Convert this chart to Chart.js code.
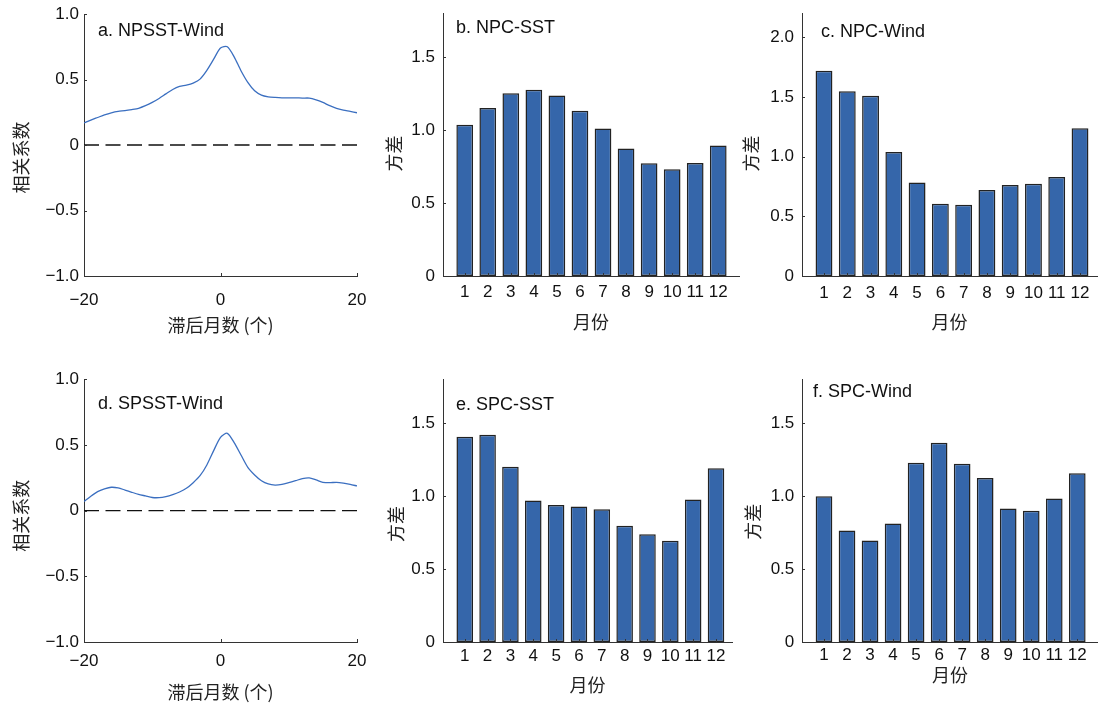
<!DOCTYPE html>
<html><head><meta charset="utf-8">
<script src="https://cdn.jsdelivr.net/npm/chart.js@4.4.1/dist/chart.umd.min.js"></script>
<style>
html,body{margin:0;padding:0;background:#fff;}
#wrap{position:relative;width:1098px;height:704px;overflow:hidden;background:#fff;}
canvas{position:absolute;}
</style></head><body><div id="wrap"></div>
<script>
// ---------- data ----------
const lags = [-20,-19,-18,-17,-16,-15,-14,-13,-12,-11,-10,-9,-8,-7,-6,-5,-4,-3,-2,-1,0,1,2,3,4,5,6,7,8,9,10,11,12,13,14,15,16,17,18,19,20];
const npsstWind = [0.168,0.19,0.21,0.23,0.246,0.257,0.262,0.27,0.28,0.30,0.325,0.355,0.39,0.424,0.447,0.457,0.473,0.503,0.57,0.655,0.74,0.75,0.673,0.567,0.478,0.414,0.381,0.368,0.363,0.36,0.36,0.36,0.358,0.358,0.345,0.325,0.30,0.28,0.267,0.257,0.246];
const spsstWind = [0.069,0.11,0.145,0.165,0.178,0.173,0.157,0.14,0.124,0.112,0.10,0.099,0.107,0.122,0.142,0.17,0.213,0.266,0.348,0.457,0.558,0.589,0.518,0.424,0.33,0.272,0.228,0.203,0.195,0.20,0.213,0.228,0.244,0.249,0.234,0.216,0.213,0.216,0.21,0.20,0.188];
const months = [1,2,3,4,5,6,7,8,9,10,11,12];
const npcSST  = [1.038,1.153,1.253,1.278,1.239,1.134,1.011,0.874,0.773,0.732,0.775,0.896];
const npcWind = [1.721,1.548,1.512,1.040,0.784,0.605,0.597,0.720,0.764,0.773,0.831,1.238];
const spcSST  = [1.406,1.420,1.201,0.970,0.938,0.928,0.910,0.796,0.739,0.693,0.976,1.191];
const spcWind = [0.999,0.764,0.695,0.812,1.228,1.365,1.221,1.123,0.915,0.899,0.983,1.157];
const corrTicks = [-1,-0.5,0,0.5,1];
const lagTicks = [-20,0,20];
const varTicks15 = [0,0.5,1,1.5];
const varTicks20 = [0,0.5,1,1.5,2];

// ---------- styling ----------
const LAT = '"Liberation Sans", Arial, sans-serif';
const CJK = '"Noto Sans CJK SC", "Liberation Sans", sans-serif';
const AXIS = '#333';
const BAR = '#3566aa';
const LINE = '#3b6fc0';

const deco = {
  id: 'deco',
  afterDraw(chart, args, o) {
    const ctx = chart.ctx, xs = chart.scales.x, ys = chart.scales.y, ca = chart.chartArea;
    ctx.save();
    ctx.strokeStyle = AXIS; ctx.lineWidth = 1;
    ctx.beginPath();
    ys.ticks.forEach(t => { const y = Math.round(ys.getPixelForValue(t.value)) + 0.5; ctx.moveTo(ca.left, y); ctx.lineTo(ca.left + 3, y); });
    xs.ticks.forEach(t => { const x = Math.round(xs.getPixelForValue(t.value)) + 0.5; ctx.moveTo(x, ca.bottom); ctx.lineTo(x, ca.bottom - 3); });
    ctx.stroke();
    ctx.fillStyle = '#111';
    ctx.font = '18px ' + LAT; ctx.textBaseline = 'middle'; ctx.textAlign = 'left';
    ctx.fillText(o.title, o.tx, o.ty);
    ctx.fillStyle = '#222';
    ctx.translate(o.yx, o.yy); ctx.rotate(-Math.PI / 2);
    ctx.textAlign = 'center'; ctx.font = '18px ' + CJK;
    ctx.fillText(o.ytitle, 0, 0);
    ctx.restore();
  }
};

const fmtCorr = v => v === 0 ? '0' : (v < 0 ? '\u2212' : '') + Math.abs(v).toFixed(1);
const fmtLag = v => (v < 0 ? '\u2212' : '') + Math.abs(v);
const fmtVar = v => v === 0 ? '0' : v.toFixed(1);

function makeChart(p) {
  const c = document.createElement('canvas');
  c.width = p.cw; c.height = p.ch;
  c.style.left = p.cx + 'px'; c.style.top = p.cy + 'px';
  c.style.width = p.cw + 'px'; c.style.height = p.ch + 'px';
  document.getElementById('wrap').appendChild(c);
  const yW = p.L - p.cx, xH = p.cy + p.ch - p.B;
  const isLine = p.kind === 'line';
  let datasets;
  if (isLine) {
    datasets = [
      { data: lags.map((l, i) => ({ x: l, y: p.values[i] })), borderColor: LINE, borderWidth: 1.3, pointRadius: 0, tension: 0.25, fill: false },
      { data: [{ x: lags[0], y: 0 }, { x: lags[lags.length - 1], y: 0 }], borderColor: '#111', borderWidth: 1.4, borderDash: [15, 6.5], pointRadius: 0, fill: false }
    ];
  } else {
    datasets = [{ data: months.map((m, i) => ({ x: m, y: p.values[i] })), backgroundColor: BAR, borderColor: '#222', borderWidth: 1.5, borderSkipped: false, categoryPercentage: 1, barPercentage: 0.725 }];
  }
  new Chart(c, {
    type: isLine ? 'line' : 'bar',
    data: { datasets },
    plugins: [deco],
    options: {
      responsive: false, animation: false, devicePixelRatio: 1, events: [],
      layout: { padding: { top: p.T - p.cy, right: p.cx + p.cw - p.R, left: 0, bottom: 0 } },
      plugins: { legend: { display: false }, tooltip: { enabled: false },
        deco: { title: p.title, tx: p.tx - p.cx, ty: p.ty - p.cy, ytitle: p.ytitle, yx: p.yx - p.cx, yy: p.yy - p.cy } },
      scales: {
        x: {
          type: 'linear', min: p.xmin, max: p.xmax, offset: false,
          grid: { display: false, drawTicks: false }, border: { display: true, color: AXIS, width: 1 },
          afterBuildTicks: s => { s.ticks = p.xticks.map(v => ({ value: v })); },
          afterFit: s => { s.height = xH; s.paddingLeft = 0; s.paddingRight = 0; },
          ticks: { padding: p.xpad, autoSkip: false, maxRotation: 0, color: '#111', font: { family: LAT, size: 17 }, callback: p.xfmt },
          title: { display: true, text: p.xtitle, color: '#222', font: { family: CJK, size: 18 }, padding: { top: 0, bottom: 0 } }
        },
        y: {
          type: 'linear', min: p.ymin, max: p.ymax,
          grid: { display: false, drawTicks: false }, border: { display: true, color: AXIS, width: 1 },
          afterBuildTicks: s => { s.ticks = p.yticks.map(v => ({ value: v })); },
          afterFit: s => { s.width = yW; s.paddingTop = 0; s.paddingBottom = 0; },
          ticks: { padding: p.ypad, color: '#111', font: { family: LAT, size: 17 }, callback: p.yfmt }
        }
      }
    }
  });
}

const panels = [
  { kind: 'line', values: npsstWind, cx: 0, cy: 0, cw: 370, ch: 336, L: 84, T: 14, R: 357, B: 276,
    xmin: -20, xmax: 20, ymin: -1, ymax: 1, xticks: lagTicks, yticks: corrTicks, xfmt: fmtLag, yfmt: fmtCorr,
    xpad: 14.5, ypad: 5, xtitle: '滞后月数 (个)', ytitle: '相关系数', yx: 21, yy: 157.5,
    title: 'a. NPSST-Wind', tx: 98, ty: 31 },
  { kind: 'bar', values: npcSST, cx: 370, cy: 0, cw: 370, ch: 333, L: 443, T: 13.6, R: 739, B: 276,
    xmin: 0.058, xmax: 12.9, ymin: 0, ymax: 1.8, xticks: months, yticks: varTicks15, xfmt: v => String(v), yfmt: fmtVar,
    xpad: 6.3, ypad: 8, xtitle: '月份', ytitle: '方差', yx: 394, yy: 153.5,
    title: 'b. NPC-SST', tx: 456, ty: 28 },
  { kind: 'bar', values: npcWind, cx: 740, cy: 0, cw: 358, ch: 333, L: 802, T: 13.6, R: 1097, B: 276,
    xmin: 0.055, xmax: 12.73, ymin: 0, ymax: 2.2, xticks: months, yticks: varTicks20, xfmt: v => String(v), yfmt: fmtVar,
    xpad: 7, ypad: 8, xtitle: '月份', ytitle: '方差', yx: 751, yy: 153.5,
    title: 'c. NPC-Wind', tx: 821, ty: 32 },
  { kind: 'line', values: spsstWind, cx: 0, cy: 345, cw: 370, ch: 358, L: 84, T: 379.3, R: 357, B: 642,
    xmin: -20, xmax: 20, ymin: -1, ymax: 1, xticks: lagTicks, yticks: corrTicks, xfmt: fmtLag, yfmt: fmtCorr,
    xpad: 9.5, ypad: 5, xtitle: '滞后月数 (个)', ytitle: '相关系数', yx: 21, yy: 515.8,
    title: 'd. SPSST-Wind', tx: 98, ty: 404 },
  { kind: 'bar', values: spcSST, cx: 370, cy: 345, cw: 370, ch: 351, L: 443, T: 379.3, R: 732, B: 642,
    xmin: 0.048, xmax: 12.7, ymin: 0, ymax: 1.8, xticks: months, yticks: varTicks15, xfmt: v => String(v), yfmt: fmtVar,
    xpad: 4.5, ypad: 8, xtitle: '月份', ytitle: '方差', yx: 396, yy: 524,
    title: 'e. SPC-SST', tx: 456, ty: 405 },
  { kind: 'bar', values: spcWind, cx: 740, cy: 345, cw: 358, ch: 341, L: 802, T: 379.3, R: 1098, B: 642,
    xmin: 0.045, xmax: 12.9, ymin: 0, ymax: 1.8, xticks: months, yticks: varTicks15, xfmt: v => String(v), yfmt: fmtVar,
    xpad: 2.8, ypad: 7.7, xtitle: '月份', ytitle: '方差', yx: 753, yy: 521.7,
    title: 'f. SPC-Wind', tx: 813, ty: 392 }
];
panels.forEach(makeChart);
</script></body></html>
